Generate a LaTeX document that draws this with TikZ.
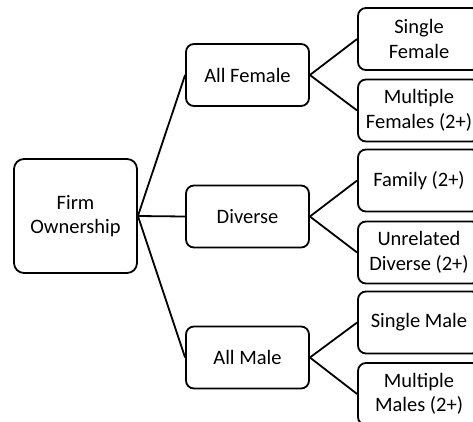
\documentclass[tikz,border=0pt]{standalone}
\usepackage{fontspec}
\setmainfont{Carlito}
\begin{document}
\begin{tikzpicture}[x=1pt,y=-1pt,
  box/.style={draw=black, line width=1.8pt, rounded corners=8pt, align=center,
    inner sep=0pt, font=\fontsize{20.5}{24.5}\selectfont},
  midbox/.style={box, minimum width=123pt, minimum height=62pt},
  leafbox/.style={box, minimum width=122pt, minimum height=62pt},
  link/.style={line width=1.8pt}]
\clip (0,0) rectangle (473,421);
\node[box, minimum width=123pt, minimum height=114pt, rounded corners=10pt] (firm) at (75.5,216) {Firm\\Ownership};
\node[midbox] (af) at (247.5,75) {All Female};
\node[midbox] (dv) at (247.5,216.5) {Diverse};
\node[midbox] (am) at (247.5,357.5) {All Male};
\node[leafbox] (sf) at (419,39) {Single\\Female};
\node[leafbox] (mf) at (419,110.5) {Multiple\\Females (2+)};
\node[leafbox] (fa) at (419,180.5) {Family (2+)};
\node[leafbox] (ud) at (419,252.5) {Unrelated\\Diverse (2+)};
\node[leafbox] (sm) at (419,322.5) {Single Male};
\node[leafbox] (mm) at (419,394) {Multiple\\Males (2+)};
\draw[link] (firm.east) -- (af.west);
\draw[link] (firm.east) -- (dv.west);
\draw[link] (firm.east) -- (am.west);
\draw[link] (af.east) -- (sf.west);
\draw[link] (af.east) -- (mf.west);
\draw[link] (dv.east) -- (fa.west);
\draw[link] (dv.east) -- (ud.west);
\draw[link] (am.east) -- (sm.west);
\draw[link] (am.east) -- (mm.west);
\end{tikzpicture}
\end{document}
